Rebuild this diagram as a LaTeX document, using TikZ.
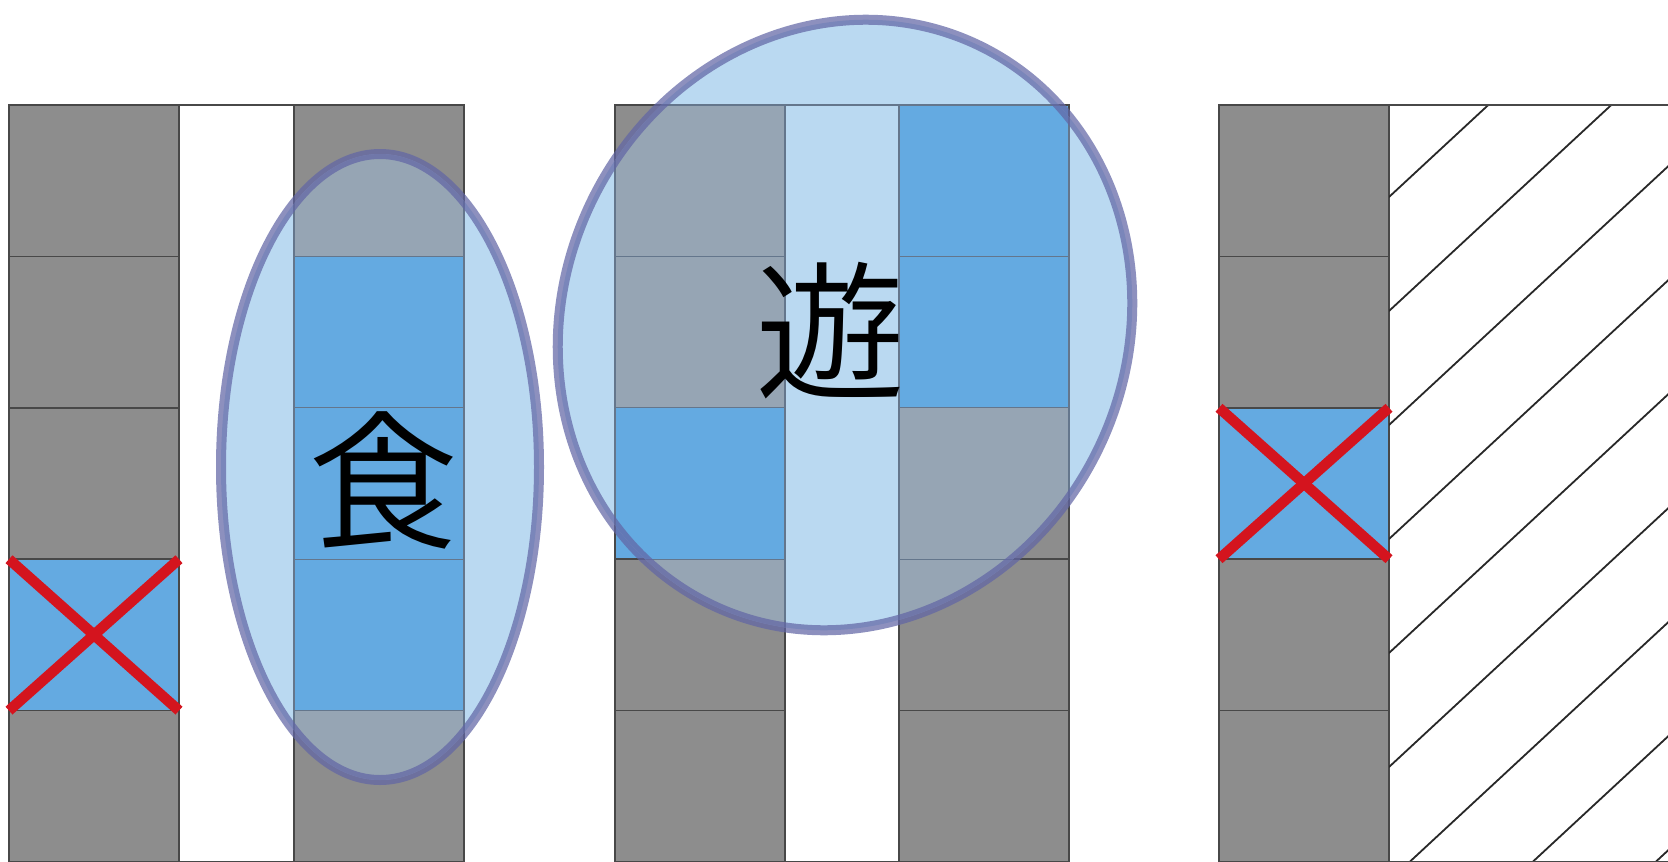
\documentclass[tikz,border=0pt]{standalone}
\usepackage{fontspec}
\IfFontExistsTF{Noto Sans CJK JP DemiLight}
  {\newfontfamily\cjk{Noto Sans CJK JP DemiLight}}
  {\IfFontExistsTF{Noto Sans CJK JP Light}
    {\newfontfamily\cjk{Noto Sans CJK JP Light}}
    {\newfontfamily\cjk{Noto Sans CJK JP}}}
\definecolor{cellgray}{RGB}{141,141,141}
\definecolor{cellblue}{RGB}{100,170,225}
\definecolor{gridline}{RGB}{72,72,72}
\definecolor{fillwhite}{RGB}{186,217,241}
\definecolor{fillgray}{RGB}{150,165,180}
\definecolor{gridin}{RGB}{100,118,140}
\definecolor{ringcol}{RGB}{98,102,165}
\definecolor{crossred}{RGB}{212,20,30}
\definecolor{hatchline}{RGB}{40,40,40}
\tikzset{
  cellstyle/.style={line width=1.6pt, draw=gridline},
  cellin/.style={line width=1.2pt, draw=gridin},
  ring/.style={draw=ringcol, draw opacity=0.72, line width=10pt},
  cross/.style={draw=crossred, line width=10.5pt},
  hatch/.style={draw=hatchline, line width=1.8pt},
  glyph/.style={font=\cjk\fontsize{150}{150}\selectfont, inner sep=0pt, text=black}
}
\begin{document}
\begin{tikzpicture}[x=1pt,y=-1pt]
\useasboundingbox (0,0) rectangle (1668,862);
\fill[white] (0,0) rectangle (1668,862);
\begin{scope}
\clip (0,0) rectangle (1668,862);
% cells
\foreach \cx/\cr/\cc in {9/0/cellgray,9/1/cellgray,9/2/cellgray,9/3/cellblue,9/4/cellgray,
  294/0/cellgray,294/1/cellblue,294/2/cellblue,294/3/cellblue,294/4/cellgray,
  615/0/cellgray,615/1/cellgray,615/2/cellblue,615/3/cellgray,615/4/cellgray,
  899/0/cellblue,899/1/cellblue,899/2/cellgray,899/3/cellgray,899/4/cellgray,
  1219/0/cellgray,1219/1/cellgray,1219/2/cellblue,1219/3/cellgray,1219/4/cellgray}
  \filldraw[cellstyle, fill=\cc] (\cx,{105+151.4*\cr}) rectangle ++(170,151.4);
\draw[cellstyle] (179,105) -- (294,105);
\draw[cellstyle] (179,862) -- (294,862);
\draw[cellstyle] (785,862) -- (899,862);
% hatched area
\begin{scope}
\clip (1389,105) rectangle (1668,862);
\foreach \k in {0,...,8}
  \draw[hatch] (1389,{197+114*\k}) -- ++(1230,-1140);
\end{scope}
\draw[cellstyle] (1389,105) -- (1680,105);
\draw[cellstyle] (1389,862) -- (1680,862);
% left ellipse
\begin{scope}
\clip (380,467) ellipse [x radius=159, y radius=313];
\fill[fillwhite] (200,100) rectangle (560,870);
\foreach \cr/\cc in {0/fillgray,1/cellblue,2/cellblue,3/cellblue,4/fillgray}
  \filldraw[cellin, fill=\cc] (294,{105+151.4*\cr}) rectangle ++(170,151.4);
\end{scope}
\draw[ring] (380,467) ellipse [x radius=159, y radius=313];
% middle circle
\begin{scope}
\clip[rotate around={-25:(845,325)}] (845,325) ellipse [x radius=282, y radius=310];
\fill[fillwhite] (540,0) rectangle (1150,650);
\foreach \cx/\cr/\cc in {615/0/fillgray,615/1/fillgray,615/2/cellblue,615/3/fillgray,615/4/fillgray,
  899/0/cellblue,899/1/cellblue,899/2/fillgray,899/3/fillgray,899/4/fillgray}
  \filldraw[cellin, fill=\cc] (\cx,{105+151.4*\cr}) rectangle ++(170,151.4);
\draw[cellin] (785,105) -- (899,105);
\end{scope}
\draw[ring, rotate around={-25:(845,325)}] (845,325) ellipse [x radius=282, y radius=310];
% crosses
\draw[cross] (9,559.2) -- (179,710.6);
\draw[cross] (9,710.6) -- (179,559.2);
\draw[cross] (1219,407.8) -- (1389,559.2);
\draw[cross] (1219,559.2) -- (1389,407.8);
\end{scope}
% characters
\node[glyph] (shi) at (383,480) {食};
\node[glyph] (you) at (830,331) {遊};
\end{tikzpicture}
\end{document}
